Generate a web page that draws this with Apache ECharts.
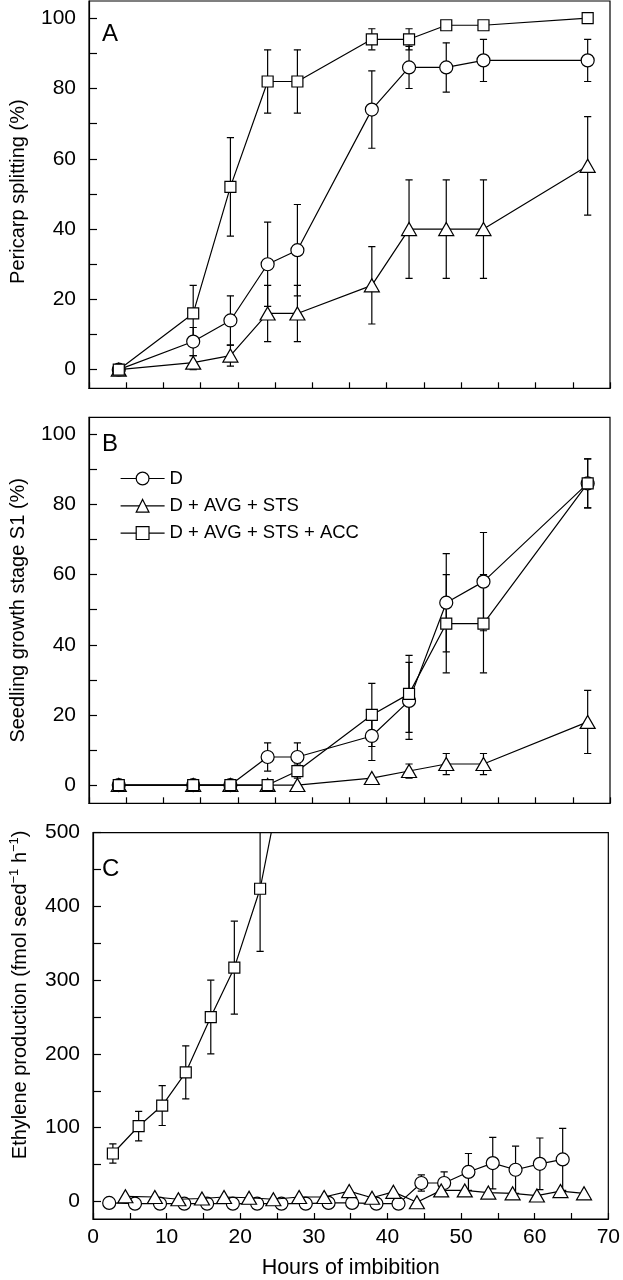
<!DOCTYPE html>
<html><head><meta charset="utf-8">
<script src="https://cdn.jsdelivr.net/npm/echarts@6/dist/echarts.min.js"></script>
<style>html,body{margin:0;padding:0;background:#fff}#c{width:623px;height:1280px}</style>
</head><body><div id="c"></div>
<script>
// ---- data ----
const seriesNames = ['D', 'D + AVG + STS', 'D + AVG + STS + ACC'];
const hours = [4, 14, 19, 24, 28, 38, 43, 48, 53, 67];

// Panel A: pericarp splitting (%)
const splitD = [0, 8, 14, 30, 34, 74, 86, 86, 88, 88];
const splitDErr = [0, 4, 7, 12, 13, 11, 6, 7, 6, 6];
const splitAvg = [0, 2, 4, 16, 16, 24, 40, 40, 40, 58];
const splitAvgErr = [0, 2, 3, 8, 8, 11, 14, 14, 14, 14];
const splitAcc = [0, 16, 52, 82, 82, 94, 94, 98, 98, 100];
const splitAccErr = [0, 8, 14, 9, 9, 3, 3, 1, 1, 0];

// Panel B: seedling growth stage S1 (%)
const s1D = [0, 0, 0, 8, 8, 14, 24, 52, 58, 86];
const s1DErr = [0, 0, 0, 4, 4, 7, 11, 14, 14, 7];
const s1Avg = [0, 0, 0, 0, 0, 2, 4, 6, 6, 18];
const s1AvgErr = [0, 0, 0, 0, 0, 0, 2, 3, 3, 9];
const s1Acc = [0, 0, 0, 0, 4, 20, 26, 46, 46, 86];
const s1AccErr = [0, 0, 0, 0, 2, 9, 11, 14, 14, 7];

// Panel C: ethylene production
const ethDHours = [2.2, 5.7, 9.1, 12.4, 15.5, 19.0, 22.3, 25.6, 28.9, 32.0, 35.2, 38.5, 41.5, 44.6, 47.7, 51.0, 54.3, 57.4, 60.7, 63.8];
const ethD = [-2, -3, -3, -3, -3, -3, -3, -3, -3, -2, -2, -3, -3, 25, 25, 40, 52, 43, 51, 57];
const ethDErr = [0, 0, 0, 0, 0, 0, 0, 0, 0, 0, 0, 0, 0, 11, 15, 25, 35, 32, 35, 42];
const ethAvgHours = [4.4, 8.4, 11.6, 14.8, 17.8, 21.2, 24.5, 28.0, 31.4, 34.8, 37.9, 40.8, 44.0, 47.3, 50.5, 53.7, 57.0, 60.3, 63.5, 66.7];
const ethAvg = [7, 6, 3, 4, 6, 5, 3, 6, 6, 14, 5, 13, -1, 15, 15, 12, 11, 8, 14, 11];
const ethAvgErr = [0, 0, 0, 0, 0, 0, 0, 0, 0, 0, 0, 0, 0, 0, 0, 0, 0, 0, 0, 0];
const ethAccHours = [2.7, 6.2, 9.4, 12.6, 16.0, 19.2, 22.7, 26.0];
const ethAcc = [65, 102, 130, 175, 250, 317, 424, 590];
const ethAccErr = [13, 20, 27, 36, 50, 63, 85, 0];

// ticks
const pctTicks = [0, 10, 20, 30, 40, 50, 60, 70, 80, 90, 100];
const pctLabels = [0, 20, 40, 60, 80, 100];
const ethTicks = [0, 50, 100, 150, 200, 250, 300, 350, 400, 450, 500];
const ethLabels = [0, 100, 200, 300, 400, 500];
const panelLetters = ['A', 'B', 'C'];

// ---- chart ----
const FONT = 'Liberation Sans, Arial, Helvetica, sans-serif';
const LW = 1.2;
const chart = echarts.init(document.getElementById('c'), null, {renderer: 'canvas'});

const symbols = [
  {symbol: 'circle', symbolSize: 13},
  {symbol: 'triangle', symbolSize: [15, 13]},
  {symbol: 'rect', symbolSize: 11}
];
const pairs = (xs, ys) => xs.map((x, i) => [x, ys[i]]);
const triples = (xs, ys, es) => xs.map((x, i) => [x, ys[i], es[i]]);

function lineSeries(k, idx, xs, ys) {
  return {
    type: 'line', name: seriesNames[k], xAxisIndex: idx, yAxisIndex: idx,
    data: pairs(xs, ys), symbol: symbols[k].symbol, symbolSize: symbols[k].symbolSize,
    showAllSymbol: true, clip: true, z: 3 + k, animation: false,
    lineStyle: {color: '#000', width: LW},
    itemStyle: {color: '#fff', borderColor: '#000', borderWidth: LW}
  };
}
function errSeries(idx, xs, ys, es) {
  return {
    type: 'custom', xAxisIndex: idx, yAxisIndex: idx, clip: true, z: 2, animation: false,
    silent: true,
    data: triples(xs, ys, es), encode: {x: 0, y: 1},
    renderItem: function (params, api) {
      const x = api.value(0), y = api.value(1), e = api.value(2);
      if (!e) return null;
      const hi = api.coord([x, y + e]);
      const lo = api.coord([x, y - e]);
      const w = 3.6;
      const st = {stroke: '#000', lineWidth: LW};
      return {type: 'group', children: [
        {type: 'line', shape: {x1: hi[0], y1: hi[1], x2: lo[0], y2: lo[1]}, style: st},
        {type: 'line', shape: {x1: hi[0] - w, y1: hi[1], x2: hi[0] + w, y2: hi[1]}, style: st},
        {type: 'line', shape: {x1: lo[0] - w, y1: lo[1], x2: lo[0] + w, y2: lo[1]}, style: st}
      ]};
    }
  };
}

const gridTops = [1, 417.3, 832.7];
const gridHeights = [387.3, 386, 389];
const grids = gridTops.map((t, i) => ({
  left: 83.3, top: t, width: 526.7, height: gridHeights[i],
  show: true, borderColor: '#000', borderWidth: LW, backgroundColor: 'transparent'
}));

const xAxes = [0, 1, 2].map(i => ({
  type: 'value', gridIndex: i, min: 0, max: 70, interval: 10,
  axisLine: {onZero: false, lineStyle: {color: '#000', width: LW}},
  axisTick: {show: true, inside: true, length: 6, lineStyle: {color: '#000', width: LW}},
  minorTick: {show: true, splitNumber: 2, length: 6, lineStyle: {color: '#000', width: LW}},
  splitLine: {show: false}, minorSplitLine: {show: false},
  axisLabel: {show: i === 2, color: '#000', fontSize: 21, fontFamily: FONT, margin: 8},
  name: i === 2 ? 'Hours of imbibition' : '',
  nameLocation: 'middle', nameGap: 38,
  nameTextStyle: {color: '#000', fontSize: 21.5, fontFamily: FONT}
}));

const yNames = [
  'Pericarp splitting (%)',
  'Seedling growth stage S1 (%)',
  '{a|Ethylene production (fmol seed}{s|−1}{a| h}{s|−1}{a|)}'
];
const yNamePad = [[0, 0, 0, 6], [0, 0, 0, 0], [0, 0, 0, 62]];
const yRanges = [[-5.3, 104.9], [-5.2, 104.85], [-23.8, 500]];
const yAxes = [0, 1, 2].map(i => ({
  type: 'value', gridIndex: i, min: yRanges[i][0], max: yRanges[i][1],
  axisLine: {show: true, onZero: false, lineStyle: {color: '#000', width: LW}},
  axisTick: {show: true, inside: true, length: 8, customValues: i === 2 ? ethTicks : pctTicks, lineStyle: {color: '#000', width: LW}},
  axisLabel: {color: '#000', fontSize: 21, fontFamily: FONT, margin: 13, customValues: i === 2 ? ethLabels : pctLabels},
  splitLine: {show: false},
  name: yNames[i], nameLocation: 'middle', nameGap: 61,
  nameTextStyle: {color: '#000', fontSize: 20, fontFamily: FONT, padding: yNamePad[i],
    rich: {a: {fontSize: 20, fontFamily: FONT, color: '#000', lineHeight: 24},
           s: {fontSize: 13, fontFamily: FONT, color: '#000', verticalAlign: 'top', lineHeight: 13}}}
}));

const letterTops = [22, 432, 857];
const titles = panelLetters.map((t, i) => ({
  text: t, left: 102, top: letterTops[i], padding: 0,
  textStyle: {fontSize: 24, fontWeight: 'normal', color: '#000', fontFamily: FONT}
}));

const series = [
  errSeries(0, hours, splitD, splitDErr),
  errSeries(0, hours, splitAvg, splitAvgErr),
  errSeries(0, hours, splitAcc, splitAccErr),
  lineSeries(0, 0, hours, splitD),
  lineSeries(1, 0, hours, splitAvg),
  lineSeries(2, 0, hours, splitAcc),
  errSeries(1, hours, s1D, s1DErr),
  errSeries(1, hours, s1Avg, s1AvgErr),
  errSeries(1, hours, s1Acc, s1AccErr),
  lineSeries(0, 1, hours, s1D),
  lineSeries(1, 1, hours, s1Avg),
  lineSeries(2, 1, hours, s1Acc),
  errSeries(2, ethDHours, ethD, ethDErr),
  errSeries(2, ethAvgHours, ethAvg, ethAvgErr),
  errSeries(2, ethAccHours, ethAcc, ethAccErr),
  lineSeries(0, 2, ethDHours, ethD),
  lineSeries(1, 2, ethAvgHours, ethAvg),
  lineSeries(2, 2, ethAccHours, ethAcc)
];

chart.setOption({
  animation: false,
  backgroundColor: '#fff',
  title: titles,
  legend: {
    data: seriesNames, orient: 'vertical', left: 120, top: 469, padding: 0,
    itemWidth: 44, itemHeight: 16, itemGap: 8.3, selectedMode: false,
    textStyle: {fontSize: 18.5, color: '#000', fontFamily: FONT},
    itemStyle: {color: '#fff', borderColor: '#000', borderWidth: LW},
    lineStyle: {color: '#000', width: LW}
  },
  grid: grids, xAxis: xAxes, yAxis: yAxes, series: series
});
</script></body></html>
